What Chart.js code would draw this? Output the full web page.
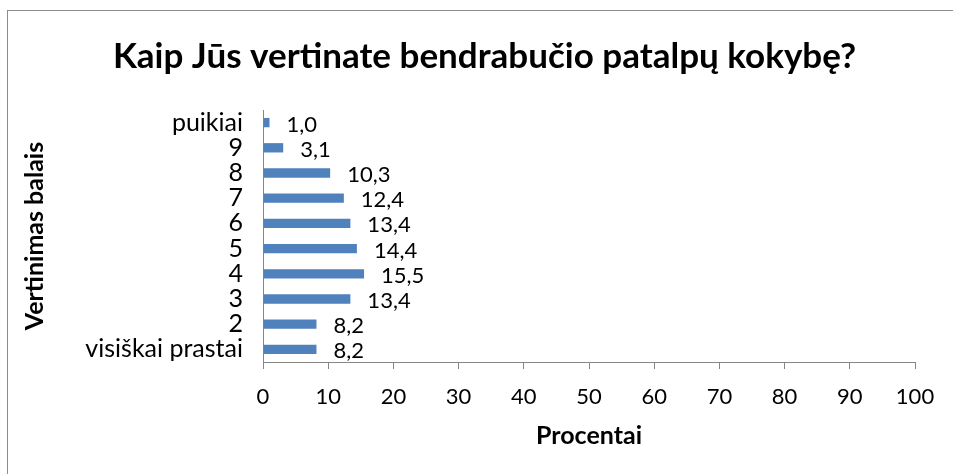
<!DOCTYPE html>
<html>
<head>
<meta charset="utf-8">
<script src="https://cdn.jsdelivr.net/npm/chart.js@4/dist/chart.umd.min.js"></script>
<style>
  html, body { margin: 0; padding: 0; background: #fff; }
  #wrap { position: relative; width: 953px; height: 474px; overflow: hidden; }
  #frame {
    position: absolute; left: 7px; top: 10px; width: 1000px; height: 1000px;
    border: 1px solid #8c8c8c; pointer-events: none;
  }
</style>
</head>
<body>
<div id="wrap">
  <canvas id="chart" width="953" height="474"></canvas>
  <div id="frame"></div>
</div>
<script>
/* data (top to bottom) */
const categories = ['puikiai', '9', '8', '7', '6', '5', '4', '3', '2', 'visiškai prastai'];
const percents   = [1.0, 3.1, 10.3, 12.4, 13.4, 14.4, 15.5, 13.4, 8.2, 8.2];
const xTicks     = [0, 10, 20, 30, 40, 50, 60, 70, 80, 90, 100];

const FONT   = "Lato, 'Open Sans', sans-serif";
const AXIS_C = '#868686';

const fmtLt = v => v.toFixed(1).replace('.', ',');

// value labels to the right of each bar
const barLabels = {
  id: 'barLabels',
  afterDatasetsDraw(chart) {
    const ctx  = chart.ctx;
    const meta = chart.getDatasetMeta(0);
    ctx.save();
    ctx.font = '22px ' + FONT;
    ctx.fillStyle = '#000';
    ctx.textAlign = 'left';
    ctx.textBaseline = 'middle';
    meta.data.forEach((bar, i) => {
      ctx.fillText(fmtLt(percents[i]), bar.x + 17, bar.y + 2);
    });
    ctx.restore();
  },
};

new Chart(document.getElementById('chart'), {
  type: 'bar',
  data: {
    labels: categories,
    datasets: [{
      data:               percents,
      backgroundColor:    '#4f81bd',
      borderWidth:        0,
      barPercentage:      0.37,
      categoryPercentage: 1,
    }],
  },
  options: {
    indexAxis:  'y',
    responsive: false,
    animation:  false,
    // left padding balances the right one so the title sits centred like the original
    layout: { padding: { left: 54, right: 38, top: 0, bottom: 20 } },
    plugins: {
      legend:  { display: false },
      tooltip: { enabled: false },
      title: {
        display: true,
        text:    'Kaip Jūs vertinate bendrabučio patalpų kokybę?',
        color:   '#000',
        font:    { family: FONT, size: 35, weight: 'bold', lineHeight: 1.2 },
        padding: { top: 36, bottom: 32 },
      },
    },
    scales: {
      x: {
        min: 0, max: 100,
        afterBuildTicks: s => { s.ticks = xTicks.map(v => ({ value: v })); },
        afterFit: s => { s.height = 92; },
        grid:   { drawOnChartArea: false, drawTicks: true, tickLength: 7, color: AXIS_C },
        border: { color: AXIS_C, width: 1 },
        ticks:  { color: '#000', padding: 15, maxRotation: 0, font: { family: FONT, size: 22 } },
        title: {
          display: true, text: 'Procentai', color: '#000',
          font: { family: FONT, size: 25, weight: 'bold', lineHeight: 1.2 },
          padding: { top: 0, bottom: 3 },
        },
      },
      y: {
        afterFit: s => { s.width = 209; },
        grid:   { display: false, drawTicks: false },
        border: { color: AXIS_C, width: 1 },
        ticks:  { color: '#000', padding: 20, autoSkip: false, font: { family: FONT, size: 25 } },
        title: {
          display: true, text: 'Vertinimas balais', color: '#000',
          font: { family: FONT, size: 25, weight: 'bold', lineHeight: 1.2 },
          padding: { top: -34, bottom: 0 },
        },
      },
    },
  },
  plugins: [barLabels],
});
</script>
</body>
</html>
